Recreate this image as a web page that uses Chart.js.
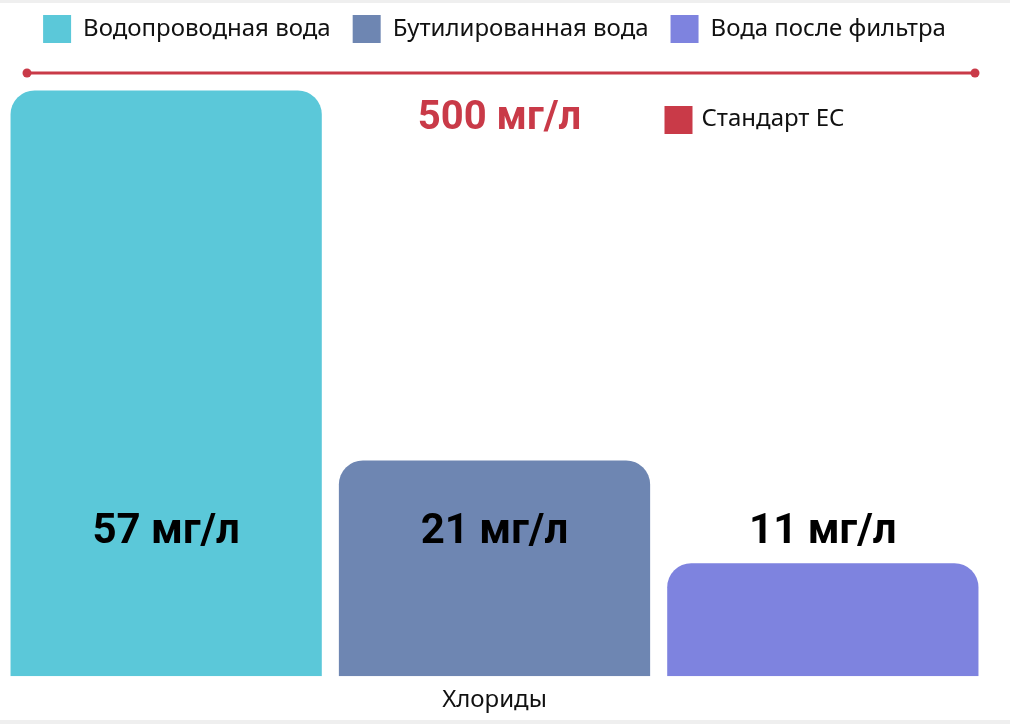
<!DOCTYPE html>
<html>
<head>
<meta charset="utf-8">
<script src="https://cdn.jsdelivr.net/npm/chart.js@4/dist/chart.umd.min.js"></script>
<style>
  html, body { margin: 0; padding: 0; background: #efefef; }
  #wrap { position: absolute; left: 0; top: 3px; width: 1010px; height: 717px; background: #fff; overflow: hidden; }
  #chlorideChart { position: absolute; left: 0; top: -10px; }
</style>
</head>
<body>
<div id="wrap"><canvas id="chlorideChart" width="1010" height="727"></canvas></div>
<script>
const categories = ['Хлориды'];
const seriesNames = ['Водопроводная вода', 'Бутилированная вода', 'Вода после фильтра'];
const seriesValues = [[57], [21], [11]];
const seriesColors = ['#5bc8d9', '#6e86b2', '#7e83df'];
const valueUnit = 'мг/л';
const standardLabel = '500 мг/л';
const standardName = 'Стандарт ЕС';
const standardColor = '#c93a48';
const labelLevel = 14;

const regularFont = "'Noto Sans', sans-serif";
const boldFont = "Roboto, 'Noto Sans', sans-serif";

// extra space between the legend and the plot
const legendGap = {
    id: 'legendGap',
    beforeInit(chart) {
        const fit = chart.legend.fit;
        chart.legend.fit = function () {
            fit.bind(chart.legend)();
            this.height += 20;
        };
    }
};

const overlay = {
    id: 'overlay',
    afterDatasetsDraw(chart) {
        const ctx = chart.ctx;
        const area = chart.chartArea;
        const yScale = chart.scales.y;
        ctx.save();
        // standard line at top of plot
        const ly = area.top;
        const x1 = area.left + 25;
        const x2 = area.right - 12;
        ctx.strokeStyle = standardColor;
        ctx.fillStyle = standardColor;
        ctx.lineWidth = 3;
        ctx.beginPath();
        ctx.moveTo(x1, ly);
        ctx.lineTo(x2, ly);
        ctx.stroke();
        [x1, x2].forEach(x => {
            ctx.beginPath();
            ctx.arc(x, ly, 4.5, 0, Math.PI * 2);
            ctx.fill();
        });
        const cx = (area.left + area.right) / 2;
        ctx.font = "bold 40px " + boldFont;
        ctx.textAlign = 'center';
        ctx.textBaseline = 'middle';
        ctx.fillText(standardLabel, cx + 5, ly + 46);
        ctx.fillRect(cx + 170, ly + 33, 28, 28);
        ctx.fillStyle = '#111';
        ctx.font = "24px " + regularFont;
        ctx.textAlign = 'left';
        ctx.fillText(standardName, cx + 207, ly + 46);

        // value labels
        ctx.font = "bold 42px " + boldFont;
        ctx.textAlign = 'center';
        ctx.fillStyle = '#000';
        chart.data.datasets.forEach((ds, i) => {
            const meta = chart.getDatasetMeta(i);
            meta.data.forEach((bar, j) => {
                ctx.fillText(ds.data[j] + ' ' + valueUnit, bar.x, yScale.getPixelForValue(labelLevel));
            });
        });
        ctx.restore();
    }
};

new Chart(document.getElementById('chlorideChart'), {
    type: 'bar',
    data: {
        labels: categories,
        datasets: seriesNames.map((name, i) => ({
            label: name,
            data: seriesValues[i],
            backgroundColor: seriesColors[i],
            borderRadius: { topLeft: 24, topRight: 24, bottomLeft: 0, bottomRight: 0 },
            borderSkipped: 'start',
            barPercentage: 0.948,
            categoryPercentage: 1
        }))
    },
    options: {
        responsive: false,
        animation: false,
        devicePixelRatio: 1,
        layout: { padding: { left: 2, right: 23, top: 0, bottom: 3 } },
        scales: {
            x: {
                grid: { display: false },
                border: { display: false },
                ticks: { color: '#111', font: { family: regularFont, size: 24 }, padding: 2 }
            },
            y: {
                display: false,
                min: 0,
                max: 58.7
            }
        },
        plugins: {
            legend: {
                position: 'top',
                labels: {
                    boxWidth: 28,
                    boxHeight: 28,
                    padding: 22,
                    color: '#111',
                    font: { family: regularFont, size: 24 }
                }
            },
            tooltip: { enabled: false }
        }
    },
    plugins: [legendGap, overlay]
});
</script>
</body>
</html>
